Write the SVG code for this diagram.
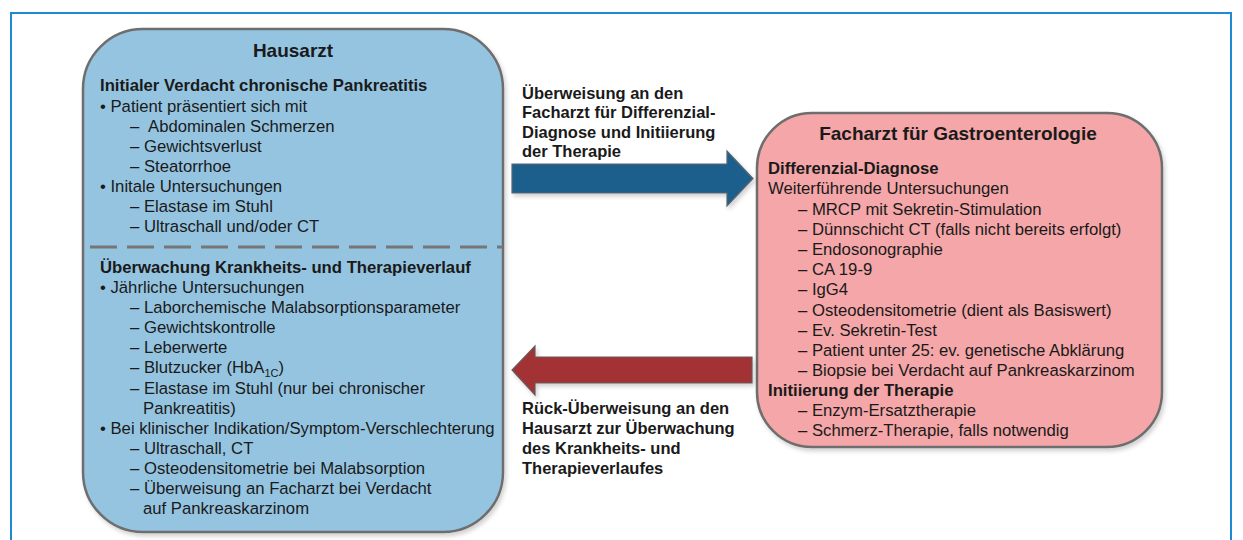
<svg xmlns="http://www.w3.org/2000/svg" width="1243" height="540" viewBox="0 0 1243 540">
<defs>
<filter id="sh" x="-5%" y="-5%" width="115%" height="115%">
<feDropShadow dx="2" dy="3" stdDeviation="2" flood-color="#000" flood-opacity="0.18"/>
</filter>
<style>
text{font-family:"Liberation Sans",Arial,sans-serif;fill:#1a1a1a;font-size:16.7px}
.t{font-size:19px;font-weight:bold;text-anchor:middle}
.b{font-weight:bold}
.l{font-size:16.5px;font-weight:bold}
.box{stroke:#6e6e6e;stroke-width:2.5}
.sub{font-size:11px}
</style>
</defs>
<rect width="1243" height="540" fill="#ffffff"/>
<path d="M11 540 V13 H1231 V540" fill="none" stroke="#1e8ad6" stroke-width="2"/>

<g id="hausarzt">
<rect class="box" x="83" y="29" width="420" height="503" rx="60" ry="60" fill="#95c4e1" filter="url(#sh)"/>
<line x1="90" y1="247" x2="503" y2="247" stroke="#767676" stroke-width="3" stroke-dasharray="27,10"/>
<text class="t" x="293" y="57">Hausarzt</text>
<text class="b" x="100" y="91">Initialer Verdacht chronische Pankreatitis</text>
<text x="100" y="112">• Patient präsentiert sich mit</text>
<text x="130" y="132">–<tspan x="148">Abdominalen Schmerzen</tspan></text>
<text x="130" y="152">– Gewichtsverlust</text>
<text x="130" y="172">– Steatorrhoe</text>
<text x="100" y="192">• Initale Untersuchungen</text>
<text x="130" y="212">– Elastase im Stuhl</text>
<text x="130" y="232">– Ultraschall und/oder CT</text>
<text class="b" x="100" y="273">Überwachung Krankheits- und Therapieverlauf</text>
<text x="100" y="293">• Jährliche Untersuchungen</text>
<text x="130" y="313">– Laborchemische Malabsorptionsparameter</text>
<text x="130" y="333">– Gewichtskontrolle</text>
<text x="130" y="353">– Leberwerte</text>
<text x="130" y="373">– Blutzucker (HbA<tspan class="sub" dy="4">1C</tspan><tspan dy="-4">)</tspan></text>
<text x="130" y="394">– Elastase im Stuhl (nur bei chronischer</text>
<text x="143" y="414">Pankreatitis)</text>
<text x="100" y="434">• Bei klinischer Indikation/Symptom-Verschlechterung</text>
<text x="130" y="454">– Ultraschall, CT</text>
<text x="130" y="474">– Osteodensitometrie bei Malabsorption</text>
<text x="130" y="494">– Überweisung an Facharzt bei Verdacht</text>
<text x="143" y="514">auf Pankreaskarzinom</text>
</g>

<g id="facharzt">
<rect class="box" x="757" y="113" width="405" height="334" rx="55" ry="55" fill="#f4a6a8" filter="url(#sh)"/>
<text class="t" x="958" y="140">Facharzt für Gastroenterologie</text>
<text class="b" x="768" y="174">Differenzial-Diagnose</text>
<text x="768" y="194">Weiterführende Untersuchungen</text>
<text x="798" y="215">– MRCP mit Sekretin-Stimulation</text>
<text x="798" y="235">– Dünnschicht CT (falls nicht bereits erfolgt)</text>
<text x="798" y="255">– Endosonographie</text>
<text x="798" y="275">– CA 19-9</text>
<text x="798" y="295">– IgG4</text>
<text x="798" y="316">– Osteodensitometrie (dient als Basiswert)</text>
<text x="798" y="336">– Ev. Sekretin-Test</text>
<text x="798" y="356">– Patient unter 25: ev. genetische Abklärung</text>
<text x="798" y="376">– Biopsie bei Verdacht auf Pankreaskarzinom</text>
<text class="b" x="768" y="396">Initiierung der Therapie</text>
<text x="798" y="416">– Enzym-Ersatztherapie</text>
<text x="798" y="436">– Schmerz-Therapie, falls notwendig</text>
</g>

<g id="connectors">
<path d="M512 164 H727 V151 L753 178.5 L727 206 V193 H512 Z" fill="#1d5f8c" stroke="#5a6670" stroke-width="1.2" filter="url(#sh)"/>
<path d="M752 357 H535 V346 L512 370 L535 395 V383 H752 Z" fill="#a33235" stroke="#6a5a5a" stroke-width="1.2" filter="url(#sh)"/>
<text class="l" x="522" y="99">Überweisung an den</text>
<text class="l" x="522" y="118">Facharzt für Differenzial-</text>
<text class="l" x="522" y="138">Diagnose und Initiierung</text>
<text class="l" x="522" y="157">der Therapie</text>
<text class="l" x="522" y="414">Rück-Überweisung an den</text>
<text class="l" x="522" y="434">Hausarzt zur Überwachung</text>
<text class="l" x="522" y="454">des Krankheits- und</text>
<text class="l" x="522" y="474">Therapieverlaufes</text>
</g>
</svg>
